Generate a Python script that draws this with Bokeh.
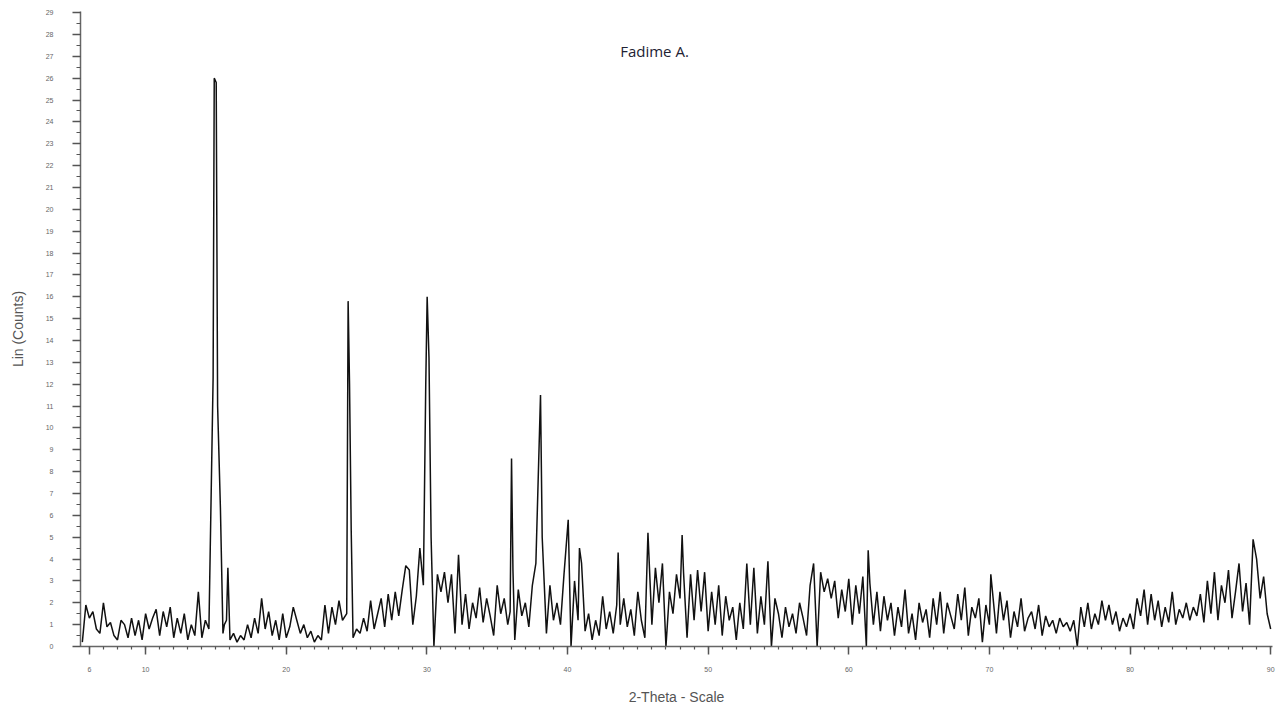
from bokeh.plotting import figure
from bokeh.models import FixedTicker, Label, ColumnDataSource
from bokeh.embed import file_html
from bokeh.resources import INLINE

# Background trace, 2-theta from 5.5 to 90.0 in steps of 0.25
bg_start = 5.5
bg_step = 0.25
bg_counts = [
    # 5.5 - 14.75
    0.2, 1.9, 1.3, 1.6, 0.8, 0.6, 2.0, 0.9, 1.1, 0.5, 0.3, 1.2, 1.0, 0.4, 1.3, 0.5, 1.2, 0.3, 1.5, 0.8,
    1.3, 1.7, 0.5, 1.6, 0.9, 1.8, 0.4, 1.3, 0.6, 1.5, 0.3, 1.0, 0.5, 2.5, 0.4, 1.2, 0.8, 1.4,
    # 15.0 - 22.75
    1.0, 1.5, 0.6, 1.2, 0.3, 0.6, 0.2, 0.5, 0.3, 1.0, 0.4, 1.3, 0.6, 2.2, 0.8, 1.6, 0.5, 1.2, 0.3, 1.5,
    0.4, 0.9, 1.8, 1.2, 0.6, 1.0, 0.4, 0.7, 0.2, 0.5, 0.3, 1.9,
    # 23.0 - 29.75
    0.6, 1.8, 1.0, 2.1, 1.2, 1.5, 1.0, 0.4, 0.8, 0.6, 1.3, 0.7, 2.1, 0.8, 1.5, 2.2, 0.9, 2.4, 1.2, 2.5,
    1.4, 2.6, 3.7, 3.5, 1.0, 2.3, 4.5, 2.8,
    # 30.0 - 35.75
    3.0, 4.0, 0.0, 3.3, 2.5, 3.4, 2.0, 3.3, 0.6, 4.2, 1.0, 2.4, 0.8, 2.0, 1.3, 2.7, 1.1, 2.2, 1.4, 0.5,
    2.8, 1.5, 2.2, 1.0,
    # 36.0 - 41.75
    1.8, 0.3, 2.6, 1.4, 2.0, 0.9, 2.8, 3.8, 3.0, 2.0, 0.6, 2.8, 1.2, 2.0, 1.0, 3.3, 1.5, 0.0, 3.0, 1.2,
    3.8, 0.7, 1.5, 0.3,
    # 42.0 - 47.75
    1.2, 0.5, 2.3, 0.8, 1.6, 0.6, 1.9, 1.0, 2.2, 0.9, 1.7, 0.5, 2.5, 1.2, 0.4, 3.0, 1.0, 3.6, 2.0, 3.8,
    0.0, 2.5, 1.5, 3.3,
    # 48.0 - 53.75
    2.2, 3.4, 0.4, 3.3, 1.2, 3.5, 1.6, 3.4, 0.7, 2.5, 1.0, 2.8, 0.5, 2.3, 1.2, 1.8, 0.3, 2.0, 0.8, 3.8,
    1.0, 3.6, 0.6, 2.3,
    # 54.0 - 59.75
    1.0, 3.9, 0.0, 2.2, 1.5, 0.4, 1.8, 0.9, 1.5, 0.6, 2.0, 1.3, 0.5, 2.8, 3.8, 0.0, 3.4, 2.5, 3.1, 2.2,
    3.0, 1.3, 2.6, 1.6,
    # 60.0 - 65.75
    3.1, 1.0, 2.8, 1.5, 3.2, 0.0, 2.9, 1.0, 2.5, 0.7, 2.3, 1.2, 2.0, 0.5, 1.8, 0.9, 2.6, 0.6, 1.5, 0.3,
    2.0, 1.1, 1.7, 0.4,
    # 66.0 - 71.75
    2.2, 1.0, 2.5, 0.6, 2.0, 1.4, 0.8, 2.4, 1.2, 2.7, 0.5, 1.8, 1.3, 2.2, 0.2, 1.9, 1.0, 2.3, 0.6, 2.5,
    1.2, 2.1, 0.4, 1.6,
    # 72.0 - 77.75
    0.9, 2.2, 0.7, 1.3, 1.6, 0.8, 1.9, 0.5, 1.4, 0.9, 1.2, 0.6, 1.3, 0.9, 1.1, 0.7, 1.2, 0.0, 1.8, 0.9,
    2.0, 0.8, 1.5, 1.0,
    # 78.0 - 83.75
    2.1, 1.2, 1.9, 1.0, 1.6, 0.7, 1.3, 0.9, 1.5, 0.8, 2.2, 1.4, 2.6, 1.0, 2.4, 1.2, 2.1, 0.9, 1.8, 1.1,
    2.5, 1.0, 1.7, 1.3,
    # 84.0 - 90.0
    2.0, 1.2, 1.8, 1.4, 2.4, 1.1, 3.0, 1.5, 3.4, 1.2, 2.8, 2.0, 3.5, 1.3, 2.5, 3.8, 1.6, 2.9, 1.0, 4.9,
    4.0, 2.2, 3.2, 1.5, 0.8,
]

# Sharp reflections
peak_theta = [14.80, 14.88, 15.02, 15.12, 15.32, 15.60, 15.85,
              24.30, 24.40, 24.50, 24.62,
              29.92, 30.02, 30.15, 30.30,
              35.92, 36.02, 36.12,
              38.08, 38.20,
              40.05, 40.85, 43.60, 45.72, 48.15, 61.38, 70.10]
peak_counts = [12.3, 26.0, 25.8, 11.0, 6.3, 1.0, 3.6,
               1.5, 15.8, 12.0, 5.3,
               12.0, 16.0, 13.2, 5.0,
               1.6, 8.6, 3.5,
               11.5, 5.0,
               5.8, 4.5, 4.3, 5.2, 5.1, 4.4, 3.3]

x_ticks = [6, 10, 20, 30, 40, 50, 60, 70, 80, 90]
y_ticks = list(range(0, 30))

# merge background and peaks
bg_theta = [bg_start + bg_step * i for i in range(len(bg_counts))]
pts = list(zip(peak_theta, peak_counts))
for t, c in zip(bg_theta, bg_counts):
    if min(abs(t - pt) for pt in peak_theta) > 0.09:
        pts.append((t, c))
pts.sort()
src = ColumnDataSource(dict(x=[p[0] for p in pts], y=[p[1] for p in pts]))

p = figure(width=1277, height=713, x_range=(5.37, 90.13), y_range=(0, 29.05),
           output_backend="svg", toolbar_location=None,
           min_border_left=80, min_border_right=5, min_border_top=11, min_border_bottom=67)
p.line("x", "y", source=src, line_color="#111111", line_width=1.5)

p.xgrid.visible = False
p.ygrid.visible = False
p.outline_line_color = None
p.background_fill_color = "white"

p.xaxis.ticker = FixedTicker(ticks=x_ticks, minor_ticks=list(range(6, 91)))
p.yaxis.ticker = FixedTicker(ticks=y_ticks, minor_ticks=[i * 0.5 for i in range(0, 59)])

for ax in (p.xaxis, p.yaxis):
    ax.axis_line_color = "#666666"
    ax.axis_line_width = 1.5
    ax.major_tick_line_color = "#555555"
    ax.minor_tick_line_color = "#555555"
    ax.major_tick_line_width = 1.5
    ax.minor_tick_line_width = 1.2
    ax.major_label_text_font = "Liberation Sans"
    ax.major_label_text_font_size = "7px"
    ax.major_label_text_color = "#666666"
    ax.axis_label_text_font = "Liberation Sans"
    ax.axis_label_text_font_size = "14px"
    ax.axis_label_text_font_style = "normal"
    ax.axis_label_text_color = "#555555"

p.xaxis.major_tick_out = 8
p.xaxis.major_tick_in = 0
p.xaxis.minor_tick_out = 3
p.xaxis.minor_tick_in = 0
p.xaxis.major_label_standoff = 12
p.xaxis.axis_label = "2-Theta - Scale"
p.xaxis.axis_label_standoff = 14

p.yaxis.major_tick_out = 8
p.yaxis.major_tick_in = 0
p.yaxis.minor_tick_out = 4
p.yaxis.minor_tick_in = 0
p.yaxis.major_label_standoff = 19
p.yaxis.axis_label = "Lin (Counts)"
p.yaxis.axis_label_standoff = 17

title = Label(x=574, y=596, x_units="screen", y_units="screen", text="Fadime A.",
              text_font="Open Sans", text_font_size="15px", text_color="#222233",
              text_align="center", text_baseline="middle")
p.add_layout(title)

open("out.html", "w").write(file_html(p, INLINE))
